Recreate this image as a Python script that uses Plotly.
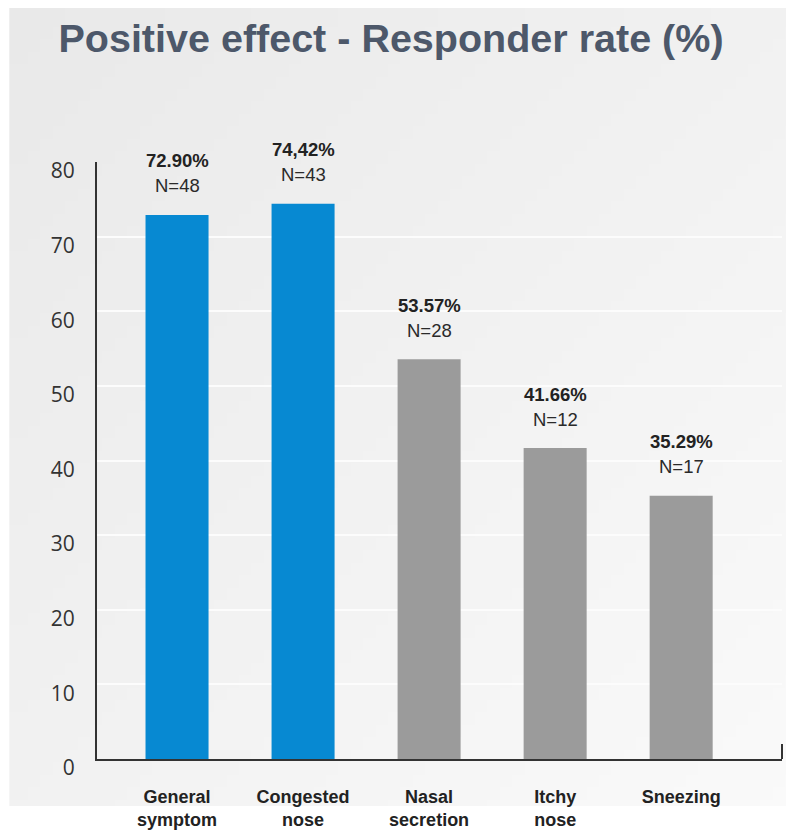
import base64
import struct
import zlib
import plotly.graph_objects as go

categories = ["General<br>symptom", "Congested<br>nose", "Nasal<br>secretion", "Itchy<br>nose", "Sneezing"]
values = [72.90, 74.42, 53.57, 41.66, 35.29]
pct_labels = ["72.90%", "74,42%", "53.57%", "41.66%", "35.29%"]
n_labels = ["N=48", "N=43", "N=28", "N=12", "N=17"]
bar_colors = ["#0789d2", "#0789d2", "#9b9b9b", "#9b9b9b", "#9b9b9b"]
y_ticks = [0, 10, 20, 30, 40, 50, 60, 70, 80]

W, H = 786, 824


def gradient_png(n=64, v0=233, v1=250):
    rows = b""
    for j in range(n):
        row = bytes([0])
        for i in range(n):
            f = (i / (n - 1) + j / (n - 1)) / 2
            row += bytes([int(round(v0 + (v1 - v0) * f))])
        rows += row

    def chunk(tag, data):
        c = tag + data
        return struct.pack(">I", len(data)) + c + struct.pack(">I", zlib.crc32(c) & 0xFFFFFFFF)

    png = b"\x89PNG\r\n\x1a\n"
    png += chunk(b"IHDR", struct.pack(">IIBBBBB", n, n, 8, 0, 0, 0, 0))
    png += chunk(b"IDAT", zlib.compress(rows, 9))
    png += chunk(b"IEND", b"")
    return "data:image/png;base64," + base64.b64encode(png).decode()


fig = go.Figure()
fig.add_trace(go.Bar(
    x=categories, y=values, marker=dict(color=bar_colors, line=dict(width=0)),
    width=0.5, hoverinfo="skip", showlegend=False,
))

for c, v, p, n in zip(categories, values, pct_labels, n_labels):
    fig.add_annotation(x=c, y=v, text="<b>" + p + "</b>", showarrow=False,
                       yanchor="middle", yshift=54,
                       font=dict(family="Liberation Sans, Arial", size=18.5, color="#222222"))
    fig.add_annotation(x=c, y=v, text=n, showarrow=False,
                       yanchor="middle", yshift=29,
                       font=dict(family="Liberation Sans, Arial", size=18.5, color="#2a2a2a"))

# gradient background panel
fig.add_layout_image(source=gradient_png(), xref="paper", yref="paper",
                     x=-0.128, y=1.258, sizex=1.16, sizey=1.258 + 0.0787,
                     xanchor="left", yanchor="top", sizing="stretch", layer="below")
# small end tick at right of x axis
fig.add_shape(type="line", xref="paper", yref="y", x0=1, x1=1, y0=0, y1=2,
              line=dict(color="#333333", width=2))

fig.update_layout(
    width=W, height=H,
    margin=dict(l=89, r=12, t=154, b=73, autoexpand=False),
    paper_bgcolor="white", plot_bgcolor="rgba(0,0,0,0)",
    title=dict(text="<b>Positive effect - Responder rate (%)</b>",
               x=383 / W, xanchor="center", y=1 - 30 / H, yanchor="middle",
               font=dict(family="Liberation Sans, Arial", size=39.5, color="#4d586a")),
    bargap=0.5,
)
fig.update_xaxes(range=[-0.635, 4.8], showline=True, linecolor="#333333", linewidth=2,
                 showgrid=False, ticks="", ticklabelstandoff=20, automargin=False,
                 tickfont=dict(family="Liberation Sans, Arial", size=18, color="#222222",
                               weight="bold"))
fig.update_yaxes(range=[0, 80], tickvals=y_ticks, showline=True, linecolor="#333333",
                 linewidth=2, showgrid=True, gridcolor="#fcfcfc", gridwidth=1.5,
                 zeroline=False, ticks="", ticklabelstandoff=16, ticklabelshift=9,
                 automargin=False,
                 tickfont=dict(family="Open Sans, DejaVu Sans", size=21, color="#333333"))

fig.write_html("out.html")
